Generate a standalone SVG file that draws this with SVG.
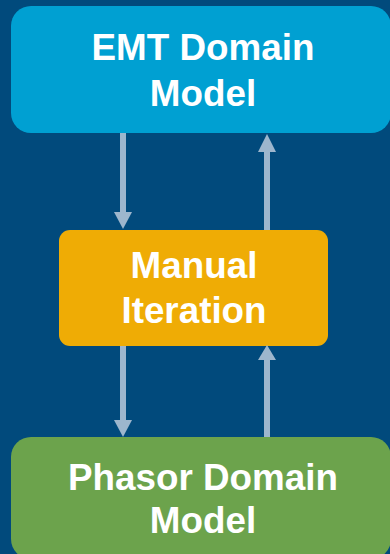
<svg xmlns="http://www.w3.org/2000/svg" width="390" height="554" viewBox="0 0 390 554">
  <style>
    .label { font-family: "Liberation Sans", Arial, sans-serif; font-weight: bold; font-size: 36.8px; fill: #ffffff; text-anchor: middle; }
    .conn line { stroke: #9db6cd; stroke-width: 6; }
    .conn path { fill: #9db6cd; }
  </style>
  <rect width="390" height="554" fill="#014a7c"/>

  <g id="emt">
    <rect x="11" y="6" width="380" height="127" rx="20" fill="#00a0d2"/>
    <text class="label" x="203" y="60">EMT Domain</text>
    <text class="label" x="203" y="106">Model</text>
  </g>

  <g id="manual">
    <rect x="59" y="230" width="269" height="116" rx="11" fill="#efac05"/>
    <text class="label" x="194" y="278">Manual</text>
    <text class="label" x="194" y="323">Iteration</text>
  </g>

  <g id="phasor">
    <rect x="11" y="437" width="380" height="122" rx="20" fill="#6ca34c"/>
    <text class="label" x="203" y="490">Phasor Domain</text>
    <text class="label" x="203" y="533">Model</text>
  </g>

  <g id="connectors" class="conn">
    <!-- EMT -> Manual -->
    <line x1="123" y1="133" x2="123" y2="213"/>
    <path d="M114 212 L132 212 L123 229 Z"/>
    <!-- Manual -> EMT -->
    <line x1="267" y1="230" x2="267" y2="151"/>
    <path d="M258 152 L276 152 L267 134 Z"/>
    <!-- Manual -> Phasor -->
    <line x1="123" y1="346" x2="123" y2="421"/>
    <path d="M114 420 L132 420 L123 437 Z"/>
    <!-- Phasor -> Manual -->
    <line x1="267" y1="437" x2="267" y2="359"/>
    <path d="M258 360 L276 360 L267 345 Z"/>
  </g>
</svg>
